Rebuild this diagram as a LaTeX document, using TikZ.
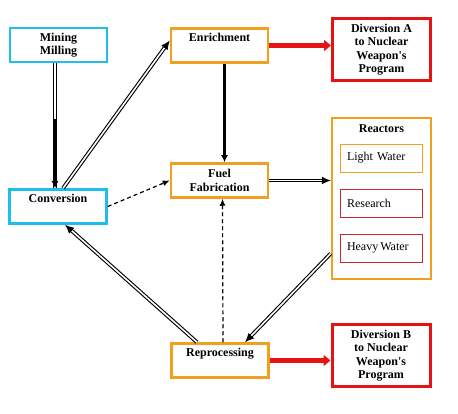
\documentclass[tikz,border=0pt]{standalone}
\usepackage{fontspec}
\setmainfont{Liberation Serif}
\usetikzlibrary{arrows.meta}
\definecolor{boxcyan}{RGB}{30,190,235}
\definecolor{boxorange}{RGB}{240,160,30}
\definecolor{divred}{RGB}{228,20,20}
\definecolor{innerred}{RGB}{200,40,40}
\begin{document}
\begin{tikzpicture}[x=1pt,y=-1pt,font=\fontsize{12}{13.5}\selectfont,
  box/.style={draw, line width=2.5pt, align=center, font=\fontsize{12}{13.5}\selectfont\bfseries, minimum width=97pt, minimum height=34pt, inner sep=0pt},
  cyanbox/.style={box, draw=boxcyan}, orangebox/.style={box, draw=boxorange},
  divbox/.style={box, draw=divred, line width=3pt, minimum width=98pt, minimum height=62pt},
  smallbox/.style={draw, line width=0.8pt, minimum width=82pt, minimum height=28pt, text width=68pt, align=left, inner xsep=7pt},
  dbl/.style={double, double distance=1.6pt, line width=1.1pt, -{Latex[length=9pt,width=8pt]}},
  heavy/.style={line width=3.5pt, -{Latex[length=7pt,width=7pt]}},
  dsh/.style={line width=1.2pt, dash pattern=on 4pt off 3pt, -{Latex[length=7pt,width=6pt]}},
  redarr/.style={line width=4.5pt, draw=divred, -{Triangle[length=7pt,width=11pt]}, fill=divred}]
\useasboundingbox (0,0) rectangle (458,414);
% boxes
\node[cyanbox] (mine) at (58.5,45) {Mining\\Milling};
\node[cyanbox] (conv) at (58,206.5) {Conversion\\\phantom{g}};
\node[orangebox] (enr) at (219.5,45.5) {Enrichment\\\phantom{g}};
\node[orangebox] (fuel) at (219.5,180.5) {Fuel\\Fabrication};
\node[orangebox] (repro) at (220,360.5) {Reprocessing\\\phantom{g}};
\node[divbox] (divA) at (381.5,49.5) {Diversion A\\to Nuclear\\Weapon\textquotesingle s\\Program};
\node[divbox] (divB) at (381,355.5) {Diversion B\\to Nuclear\\Weapon\textquotesingle s\\Program};
% reactors
\node[box, draw=boxorange, minimum width=99pt, minimum height=161pt] (reac) at (381.5,198.5) {};
\node[font=\fontsize{12}{13.5}\selectfont\bfseries] (reactitle) at (381.5,129) {Reactors};
\node[smallbox, draw=boxorange] (light) at (381,158) {Light Water};
\node[smallbox, draw=innerred] (research) at (381,203) {Research};
\node[smallbox, draw=innerred] (heavyw) at (381,248) {Heavy\,Water};
% flows
\draw[dbl, -] ([xshift=-3.5pt]mine.south) -- coordinate[pos=.45] (mid) ([xshift=-3pt]conv.north);
\draw[heavy] (mid) -- ([xshift=-3pt]conv.north);
\draw[dbl] ([xshift=5pt]conv.north) -- ([yshift=5pt]enr.west);
\draw[heavy] ([xshift=5pt]enr.south) -- ([xshift=5pt]fuel.north);
\draw[redarr] (enr.east) -- (enr.east -| divA.west);
\draw[dsh] (conv.east) -- (fuel.west);
\draw[dbl] (fuel.east) -- (fuel.east -| reac.west);
\draw[dbl] ([yshift=-55pt]reac.west) -- ([xshift=25pt]repro.north);
\draw[dbl] ([xshift=-23pt]repro.north) -- ([xshift=7pt]conv.south);
\draw[dsh] ([xshift=3pt]repro.north) -- ([xshift=3pt]fuel.south);
\draw[redarr] (repro.east) -- (repro.east -| divB.west);
\end{tikzpicture}
\end{document}
